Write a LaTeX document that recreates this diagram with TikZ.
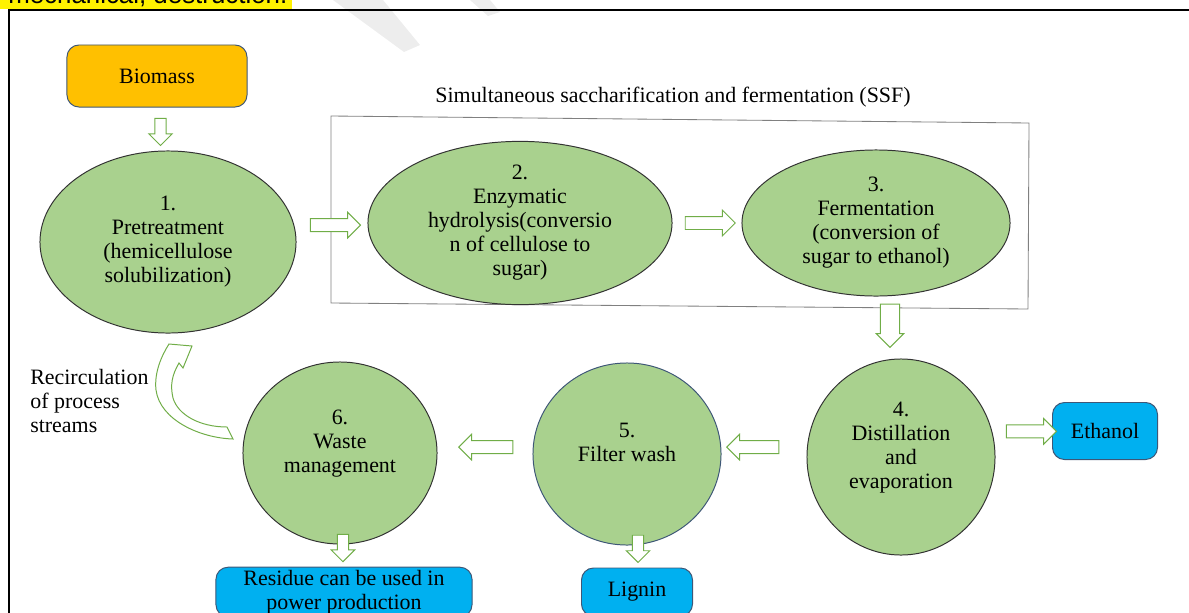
\documentclass[tikz,border=0pt]{standalone}
\usepackage{fontspec}
\setmainfont{Liberation Serif}
\newfontfamily\hlfont{Liberation Sans}
\usepackage{tikz}
\usetikzlibrary{shapes,arrows,calc}

\definecolor{stagegreen}{HTML}{A9D18E}
\definecolor{flowgreen}{HTML}{70AD47}
\definecolor{feedorange}{HTML}{FFC000}
\definecolor{productblue}{HTML}{00B0F0}
\definecolor{boxedge}{HTML}{3E5777}
\newcommand\flowfont{\fontsize{15.6}{17.1}\selectfont}

\begin{document}
\begin{tikzpicture}[x=0.025cm,y=-0.025cm,
  stage/.style={ellipse, draw=black!80, fill=stagegreen, line width=0.7pt, inner sep=0pt, align=center, font=\flowfont},
  product/.style={rectangle, rounded corners=0.3cm, draw=boxedge, fill=productblue, line width=0.7pt, inner sep=2pt, align=center, font=\flowfont},
  flow/.style={single arrow, draw=flowgreen, fill=white, line width=0.7pt, inner sep=0.15cm, single arrow head extend=0.16cm, minimum height=1.25cm},
  flow down/.style={flow, shape border rotate=270, inner sep=0.13cm, single arrow head extend=0.15cm, minimum height=0.68cm},
  flow left/.style={flow, shape border rotate=180}]

  \clip (0,0) rectangle (1189,612);

  % page leftovers
  \fill[black!7] (333,0) -- (383,0) -- (420,45) -- (404,52) -- cycle;
  \fill[black!7] (470,0) -- (490,0) -- (500,12) -- (488,16) -- cycle;
  \fill[yellow] (0,-30) rectangle (292,9);
  \node[anchor=base west, inner sep=0pt, font=\hlfont\fontsize{18.4}{20}\selectfont] (note) at (8,3.5) {mechanical, destruction.};
  \draw[line width=2pt] (9,10) rectangle (1300,700);

  % SSF frame
  \coordinate (ssf nw) at (331,116);
  \coordinate (ssf ne) at (1029,123);
  \coordinate (ssf se) at (1028,309);
  \coordinate (ssf sw) at (331,303);
  \draw[black!50, line width=0.6pt] (ssf nw) -- (ssf ne) -- (ssf se) -- (ssf sw) -- cycle;
  \node[font=\flowfont] (ssf) at (673,97) {Simultaneous saccharification and fermentation (SSF)};

  % nodes
  \node[product, fill=feedorange, minimum width=4.5cm, minimum height=1.55cm] (bio) at (157,76) {Biomass};
  \node[stage, minimum width=6.4cm, minimum height=4.55cm] (e1) at (168,242) {1.\\Pretreatment\\(hemicellulose\\solubilization)};
  \node[stage, minimum width=7.6cm, minimum height=3.5cm] (e2) at (520,223) {2.\\Enzymatic\\hydrolysis(conversio\\n of cellulose to\\sugar)};
  \node[stage, minimum width=6.7cm, minimum height=3.65cm] (e3) at (876,223) {3.\\Fermentation\\(conversion of\\sugar to ethanol)};
  \node[stage, minimum width=4.7cm, minimum height=4.9cm] (e4) at (901,457) {4.\\Distillation\\and\\evaporation\\\mbox{}};
  \node[stage, draw=boxedge, minimum width=4.7cm, minimum height=4.55cm] (e5) at (627,454) {5.\\Filter wash\\\mbox{}};
  \node[stage, minimum width=4.85cm, minimum height=4.55cm] (e6) at (340,453) {6.\\Waste\\management\\\mbox{}};
  \node[product, minimum width=2.625cm, minimum height=1.425cm] (eth) at (1105,431) {Ethanol};
  \node[product, minimum width=2.775cm, minimum height=1.2cm] (lig) at (637,592) {Lignin};
  \node[product, minimum width=6.4cm, minimum height=1.2cm] (res) at (344,592) {Residue can be used in\\power production};
  \node[align=left, anchor=west, inner sep=0pt, font=\flowfont] (recirc) at (30,401) {Recirculation\\of process\\streams};

  % flows
  \path (bio) -- node[flow down] {} (e1);
  \path (e1) -- node[flow, yshift=0.2cm] {} (e2);
  \path (e2) -- node[flow, minimum height=1.25cm] {} (e3);
  \path (e3) -- node[flow down, xshift=0.07cm, yshift=0.17cm, inner sep=0.23cm, single arrow head extend=0.1cm, minimum height=1.08cm] {} (e4);
  \path (e4) -- node[flow, xshift=0.12cm, yshift=0.25cm] {} (eth);
  \path (e4) -- node[flow left, xshift=-0.2cm, yshift=0.21cm, minimum height=1.3cm] {} (e5);
  \path (e5) -- node[flow left, xshift=0.1cm, yshift=0.16cm, minimum height=1.35cm] {} (e6);
  \path (e6) -- node[flow down, yshift=0.26cm] {} (res);
  \path (e5) -- node[flow down, xshift=0.09cm, yshift=0.26cm] {} (lig);

  % recirculation back to pretreatment
  \draw[flowgreen, fill=white, line width=0.7pt, line join=miter]
    (233,439) .. controls (200,438) and (160,420) .. (156,390)
    .. controls (154,372) and (162,355) .. (169,344) -- (192,346) -- (183,368) -- (179,363)
    .. controls (172,375) and (170,385) .. (173,398)
    .. controls (178,415) and (200,427) .. (227,427) -- cycle;
\end{tikzpicture}
\end{document}
